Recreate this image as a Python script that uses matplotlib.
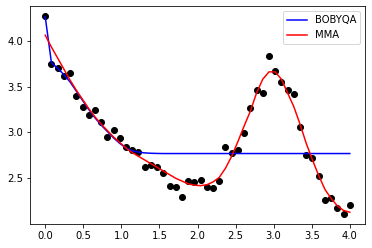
import numpy as np
import matplotlib
matplotlib.use("Agg")
import matplotlib.pyplot as plt

n_points = 50
x = np.linspace(0, 4, n_points)

data_y = [4.27, 3.75, 3.70, 3.62, 3.65, 3.40, 3.28, 3.19, 3.24, 3.11,
          2.95, 3.03, 2.94, 2.84, 2.81, 2.79, 2.62, 2.65, 2.62, 2.56,
          2.42, 2.41, 2.30, 2.475, 2.465, 2.485, 2.405, 2.39, 2.47, 2.845,
          2.78, 2.81, 2.99, 3.27, 3.46, 3.43, 3.83, 3.67, 3.55, 3.46,
          3.42, 3.06, 2.755, 2.72, 2.525, 2.26, 2.29, 2.18, 2.11, 2.21]

bobyqa_y = [4.26, 3.76, 3.70, 3.63, 3.55, 3.45, 3.35, 3.25, 3.16, 3.08,
            3.01, 2.94, 2.88, 2.83, 2.80, 2.785, 2.777, 2.773, 2.771, 2.77,
            2.77, 2.77, 2.77, 2.77, 2.77, 2.77, 2.77, 2.77, 2.77, 2.77,
            2.77, 2.77, 2.77, 2.77, 2.77, 2.77, 2.77, 2.77, 2.77, 2.77,
            2.77, 2.77, 2.77, 2.77, 2.77, 2.77, 2.77, 2.77, 2.77, 2.77]

mma_y = [4.06, 3.93, 3.81, 3.69, 3.57, 3.46, 3.36, 3.26, 3.17, 3.09,
         3.02, 2.95, 2.89, 2.83, 2.78, 2.74, 2.70, 2.66, 2.62, 2.58,
         2.54, 2.50, 2.47, 2.44, 2.425, 2.42, 2.43, 2.46, 2.51, 2.61,
         2.74, 2.90, 3.07, 3.23, 3.43, 3.58, 3.66, 3.66, 3.58, 3.43,
         3.28, 3.09, 2.88, 2.70, 2.53, 2.38, 2.28, 2.20, 2.15, 2.13]

fig = plt.figure(figsize=(372 / 72, 248 / 72), dpi=72)
ax = fig.add_axes([30 / 372, 24 / 248, 335 / 372, 218 / 248])

ax.scatter(x, data_y, color="black")
ax.plot(x, bobyqa_y, color="blue", label="BOBYQA")
ax.plot(x, mma_y, color="red", label="MMA")
ax.set_xticks([0.0, 0.5, 1.0, 1.5, 2.0, 2.5, 3.0, 3.5, 4.0])
ax.set_yticks([2.5, 3.0, 3.5, 4.0])
ax.legend(loc="upper right")

fig.savefig("out.png", dpi=72)
